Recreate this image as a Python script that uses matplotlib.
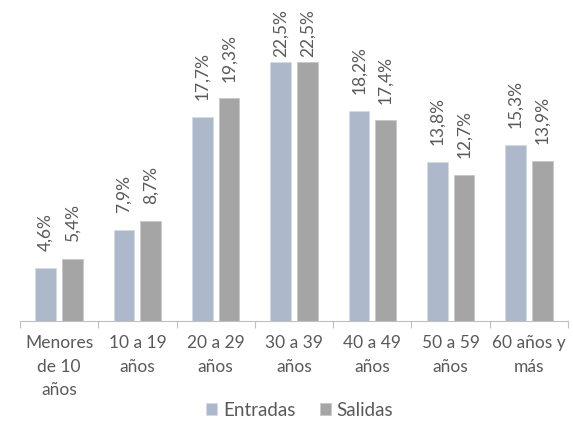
import matplotlib.pyplot as plt
import numpy as np

plt.rcParams['font.family'] = ['Lato', 'DejaVu Sans']

categorias = ['Menores\nde 10\naños', '10 a 19\naños', '20 a 29\naños', '30 a 39\naños',
              '40 a 49\naños', '50 a 59\naños', '60 años y\nmás']
entradas = [4.6, 7.9, 17.7, 22.5, 18.2, 13.8, 15.3]
salidas = [5.4, 8.7, 19.3, 22.5, 17.4, 12.7, 13.9]

color_ent = '#ADB9CA'
color_sal = '#A5A5A5'
gris_texto = '#595959'

fig = plt.figure(figsize=(5.73, 4.21), dpi=100)
ax = fig.add_axes([20 / 573, 100 / 421, 548 / 573, 316 / 421])

x = np.arange(len(categorias))
ancho = 0.264
sep = 0.077
b1 = ax.bar(x - (ancho + sep) / 2, entradas, ancho, color=color_ent, edgecolor='#D5DCE6', linewidth=0.6, label='Entradas')
b2 = ax.bar(x + (ancho + sep) / 2, salidas, ancho, color=color_sal, edgecolor='#C8C8C8', linewidth=0.6, label='Salidas')

# etiquetas: separadas de la barra, salvo cuando no caben arriba
tope = 22.85
for barras in (b1, b2):
    for b in barras:
        v = b.get_height()
        ax.text(b.get_x() + b.get_width() / 2, min(v + 1.45, tope), f'{v:.1f}%'.replace('.', ','),
                rotation=90, ha='center', va='bottom', fontsize=12.5, color=gris_texto)

ax.set_xlim(-0.5, len(categorias) - 0.5)
ax.set_ylim(0, 27.4)
ax.set_yticks([])
ax.set_xticks(x)
ax.set_xticklabels(categorias, fontsize=12.5, color=gris_texto, linespacing=1.6)
ax.set_xticks(np.arange(len(categorias) + 1) - 0.5, minor=True)
ax.tick_params(axis='x', which='major', length=0, pad=10)
ax.tick_params(axis='x', which='minor', length=5, color='#BFBFBF', width=0.8)

for s in ['top', 'right', 'left']:
    ax.spines[s].set_visible(False)
ax.spines['bottom'].set_color('#BFBFBF')
ax.spines['bottom'].set_linewidth(0.8)

ax.legend(loc='center', bbox_to_anchor=(0.51, -0.283), ncol=2, frameon=False,
          fontsize=13.5, labelcolor=gris_texto, handlelength=0.6, handleheight=0.6,
          handletextpad=0.3, columnspacing=1.3)

fig.savefig('out.png', dpi=100)
